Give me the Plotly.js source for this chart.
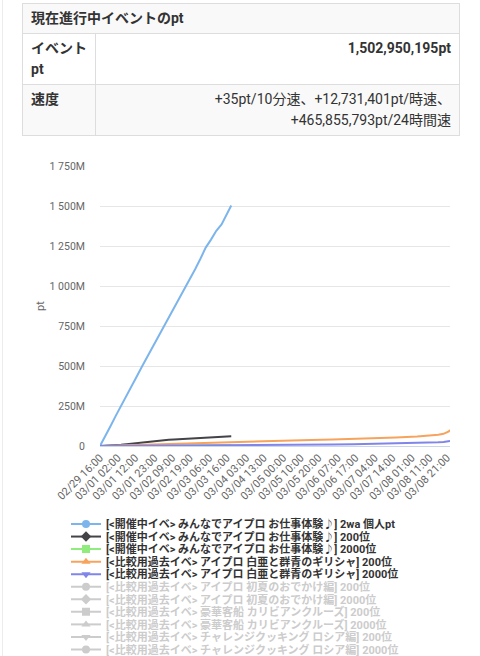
<!DOCTYPE html>
<html>
<head>
<meta charset="utf-8">
<script src="https://cdn.plot.ly/plotly-3.0.1.min.js"></script>
<style>
html,body{margin:0;padding:0;background:#fff;width:480px;height:656px;overflow:hidden;font-family:Roboto,"Noto Sans CJK JP",sans-serif;}
#edge{position:absolute;left:2px;top:0;width:1px;height:656px;background:#ececec;z-index:3;}
#chart{position:absolute;left:0;top:0;width:480px;height:656px;z-index:1;}
table{position:absolute;left:22px;top:3px;width:438px;border-collapse:collapse;table-layout:fixed;font-size:14px;line-height:21px;color:#333;z-index:2;background:#fff;}
td,th{border:1px solid #dddddd;padding:4px 8px;vertical-align:top;text-align:left;}
tr.odd th, tr.odd td{background:#f9f9f9;}
th{font-weight:bold;}
td.num{text-align:right;font-weight:bold;}
td.spd{text-align:right;font-weight:normal;}
</style>
</head>
<body>
<div id="edge"></div>
<table>
<colgroup><col style="width:73px"><col></colgroup>
<tr class="odd"><th colspan="2">現在進行中イベントのpt</th></tr>
<tr><th>イベント<br>pt</th><td class="num">1,502,950,195pt</td></tr>
<tr class="odd"><th>速度</th><td class="spd">+35pt/10分速、+12,731,401pt/時速、<br>+465,855,793pt/24時間速</td></tr>
</table>
<div id="chart"></div>
<script>
// ---- data (values in millions of pt) ----
const curTimes = ['2024-02-29 16:00','2024-02-29 19:00','2024-02-29 22:00','2024-03-01 01:00','2024-03-01 04:00','2024-03-01 07:00','2024-03-01 10:00','2024-03-01 13:00','2024-03-01 16:00','2024-03-01 19:00','2024-03-01 22:00','2024-03-02 01:00','2024-03-02 04:00','2024-03-02 07:00','2024-03-02 10:00','2024-03-02 13:00','2024-03-02 16:00','2024-03-02 19:00','2024-03-02 22:00','2024-03-03 01:00','2024-03-03 04:00','2024-03-03 07:00','2024-03-03 10:00','2024-03-03 13:00','2024-03-03 16:00','2024-03-03 18:30'];
const curIndiv = [0,58,125,190,250,310,372,438,500,560,618,685,740,805,865,925,980,1040,1105,1170,1240,1290,1345,1385,1450,1502.950195];
const cur200  = [0,1,3,5,8,11,15,18,22,27,31,35,37,39,41,43,45,47,50,54,56,57,58,59,60,61];
const cur2000 = [0,0.2,0.4,0.6,0.8,1.0,1.2,1.4,1.6,1.8,2.0,2.2,2.4,2.6,2.8,3.0,3.2,3.4,3.6,3.8,4.0,4.2,4.4,4.6,4.8,5.0];
const pastTimes = ['2024-02-29 16:00','2024-03-01 04:00','2024-03-01 16:00','2024-03-02 04:00','2024-03-02 16:00','2024-03-03 04:00','2024-03-03 16:00','2024-03-04 04:00','2024-03-04 16:00','2024-03-05 04:00','2024-03-05 16:00','2024-03-06 04:00','2024-03-06 16:00','2024-03-07 04:00','2024-03-07 16:00','2024-03-08 04:00','2024-03-08 10:00','2024-03-08 16:00','2024-03-08 19:00','2024-03-08 21:00','2024-03-08 22:00','2024-03-08 22:40'];
const past200  = [0,4,9,14,18,22,26,29,32,35,38,41,44,48,53,59,63,70,76,83,91,100];
const past2000 = [0,0.5,1,1.5,2,2.8,3.5,4.2,5,6.2,8,9.5,11,13,15,18,20,23,25,27,29,31];
const tickTimes = ['2024-02-29 16:00','2024-03-01 02:00','2024-03-01 12:00','2024-03-01 23:00','2024-03-02 09:00','2024-03-02 19:00','2024-03-03 06:00','2024-03-03 16:00','2024-03-04 03:00','2024-03-04 13:00','2024-03-05 00:00','2024-03-05 10:00','2024-03-05 20:00','2024-03-06 07:00','2024-03-06 17:00','2024-03-07 04:00','2024-03-07 14:00','2024-03-08 01:00','2024-03-08 11:00','2024-03-08 21:00'];
const tickLabels = ['02/29 16:00','03/01 02:00','03/01 12:00','03/01 23:00','03/02 09:00','03/02 19:00','03/03 06:00','03/03 16:00','03/04 03:00','03/04 13:00','03/05 00:00','03/05 10:00','03/05 20:00','03/06 07:00','03/06 17:00','03/07 04:00','03/07 14:00','03/08 01:00','03/08 11:00','03/08 21:00'];
const yTickVals = [0,250,500,750,1000,1250,1500,1750];
const yTickLabels = ['0','250M','500M','750M','1 000M','1 250M','1 500M','1 750M'];
const yTitle = 'pt';
const seriesNames = [
 '[&lt;開催中イベ&gt; みんなでアイプロ お仕事体験♪] 2wa 個人pt',
 '[&lt;開催中イベ&gt; みんなでアイプロ お仕事体験♪] 200位',
 '[&lt;開催中イベ&gt; みんなでアイプロ お仕事体験♪] 2000位',
 '[&lt;比較用過去イベ&gt; アイプロ 白亜と群青のギリシャ] 200位',
 '[&lt;比較用過去イベ&gt; アイプロ 白亜と群青のギリシャ] 2000位',
 '[&lt;比較用過去イベ&gt; アイプロ 初夏のおでかけ編] 200位',
 '[&lt;比較用過去イベ&gt; アイプロ 初夏のおでかけ編] 2000位',
 '[&lt;比較用過去イベ&gt; 豪華客船 カリビアンクルーズ] 200位',
 '[&lt;比較用過去イベ&gt; 豪華客船 カリビアンクルーズ] 2000位',
 '[&lt;比較用過去イベ&gt; チャレンジクッキング ロシア編] 200位',
 '[&lt;比較用過去イベ&gt; チャレンジクッキング ロシア編] 2000位'
];
const seriesColors = ['#7cb5ec','#434348','#90ed7d','#f7a35c','#8085e9','#cccccc','#cccccc','#cccccc','#cccccc','#cccccc','#cccccc'];
const seriesSymbols = ['circle','diamond','square','triangle-up','triangle-down','circle','diamond','square','triangle-up','triangle-down','circle'];
const seriesHidden = [false,false,false,false,false,true,true,true,true,true,true];

// ---- chart ----
const FONT = 'Roboto, "Noto Sans CJK JP", sans-serif';
const W = 480, H = 656;
const ML = 100, MR = 30;
const drawn = [
  {x: curTimes, y: curIndiv},
  {x: curTimes, y: cur200},
  {x: curTimes, y: cur2000},
  {x: pastTimes, y: past200},
  {x: pastTimes, y: past2000}
];
const traces = [];
drawn.forEach((d, i) => {
  traces.push({type: 'scatter', mode: 'lines', x: d.x, y: d.y, showlegend: false,
    line: {color: seriesColors[i], width: 2}, hoverinfo: 'skip'});
});
const layout = {
  width: W, height: H,
  paper_bgcolor: 'rgba(0,0,0,0)', plot_bgcolor: 'rgba(0,0,0,0)',
  margin: {l: ML, r: MR, t: 166, b: 210, autoexpand: false},
  font: {family: FONT, color: '#666666', size: 11},
  xaxis: {type: 'date', range: ['2024-02-29 16:00', '2024-03-08 22:40'],
    tickmode: 'array', tickvals: tickTimes, ticktext: tickLabels, tickangle: -45,
    showgrid: false, zeroline: false, showline: true, linecolor: '#ccd6eb', linewidth: 1,
    ticks: '', automargin: false, tickfont: {size: 11, color: '#666666', family: FONT}},
  yaxis: {range: [0, 1750], tickmode: 'array', tickvals: yTickVals, ticktext: yTickLabels,
    showgrid: true, gridcolor: '#e6e6e6', gridwidth: 1, zeroline: false, showline: false,
    ticks: '', automargin: false, ticklabelstandoff: 14,
    tickfont: {size: 10.5, color: '#666666', family: FONT}},
  annotations: [{text: yTitle, xref: 'paper', yref: 'paper',
    x: (40 - ML) / (W - ML - MR), y: 0.5, xanchor: 'center', yanchor: 'middle',
    textangle: -90, showarrow: false, font: {size: 11, color: '#666666', family: FONT}}],
  showlegend: true
};
seriesNames.forEach((nm, i) => {
  const key = i === 0 ? 'legend' : 'legend' + (i + 1);
  const col = seriesColors[i];
  traces.push({type: 'scatter', mode: 'lines+markers', x: [pastTimes[0]], y: [null],
    name: seriesHidden[i] ? '<span style="color:#cccccc">' + nm + '</span>' : nm,
    legend: key, showlegend: true, hoverinfo: 'skip',
    line: {color: col, width: 2},
    marker: {color: col, symbol: seriesSymbols[i], size: 8}});
  const cy = 524 + 12.55 * i;
  layout[key] = {xref: 'container', yref: 'container', x: 66 / W, xanchor: 'left',
    y: 1 - cy / H, yanchor: 'middle', bgcolor: 'rgba(0,0,0,0)', borderwidth: 0,
    font: {family: FONT, size: 11, color: '#333333', weight: 'bold'}};
});
Plotly.newPlot('chart', traces, layout, {staticPlot: true, displayModeBar: false});
</script>
</body>
</html>
